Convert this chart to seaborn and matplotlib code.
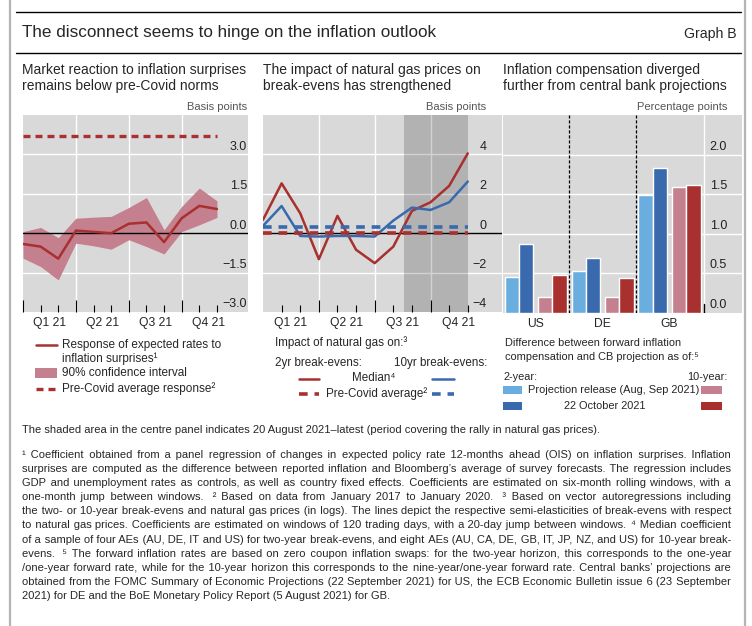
import numpy as np
import pandas as pd
import matplotlib.pyplot as plt
import seaborn as sns
from matplotlib.lines import Line2D
from matplotlib.patches import Rectangle

W, H = 752, 626

# ---- data ----
months = np.arange(12)              # Jan..Dec 2021
quarters = ['Q1 21', 'Q2 21', 'Q3 21', 'Q4 21']
quarter_mid = [1.5, 4.5, 7.5, 10.5]

# panel 1: response of expected rates to inflation surprises (bp)
resp = [-0.41, -0.51, -0.97, 0.10, 0.05, 0.00, 0.36, 0.41, -0.34, 0.57, 1.04, 0.92]
resp_hi = [0.06, 0.22, -0.17, 0.57, 0.61, 0.64, 0.98, 1.36, 0.13, 1.02, 1.72, 1.23]
resp_lo = [-0.95, -1.27, -1.78, -0.38, -0.48, -0.61, -0.25, -0.51, -0.79, 0.06, 0.32, 0.60]
resp_precovid = 3.7

# panel 2: impact of natural gas on break-evens (bp)
be2_median = [0.68, 2.53, 1.01, -1.32, 0.88, -0.84, -1.52, -0.68, 1.13, 1.57, 2.40, 4.05]
be10_median = [0.37, 1.38, -0.14, -0.17, -0.14, -0.14, -0.17, 0.64, 1.30, 1.18, 1.57, 2.62]
be2_precovid = 0.03
be10_precovid = 0.30
shade_start, shade_end = 7.6, 11.0

# panel 3: forward inflation compensation minus CB projection (pp)
countries = ['US', 'DE', 'GB']
proj_2y = [0.45, 0.53, 1.49]
oct_2y = [0.87, 0.69, 1.83]
proj_10y = [0.19, 0.19, 1.59]
oct_10y = [0.48, 0.44, 1.62]

RED = '#a8302e'
BLUE = '#3a6aae'
LBLUE = '#6aaee0'
PINK = '#c4808e'
BG = '#d9d9d9'

sns.set_style('white')
FONT = ['Liberation Sans', 'DejaVu Sans']
plt.rcParams['font.family'] = FONT

fig = plt.figure(figsize=(W / 100, H / 100), dpi=100)


def fx(x):
    return x / W


def fy(y):
    return 1 - y / H


def hline(x0, x1, y, **kw):
    fig.add_artist(Line2D([fx(x0), fx(x1)], [fy(y), fy(y)], transform=fig.transFigure, **kw))


def box(x0, y0, x1, y1, color):
    fig.add_artist(Rectangle((fx(x0), fy(y1)), fx(x1) - fx(x0), fy(y0) - fy(y1),
                             transform=fig.transFigure, color=color, lw=0))


def txt(x, y, s, size=8.6, va='center', **kw):
    return fig.text(fx(x), fy(y), s, va=va, fontsize=size, **kw)


# frame and title
for xv in (9.5, 745):
    fig.add_artist(Line2D([fx(xv), fx(xv)], [0, 1], transform=fig.transFigure, color='#b4b4b4', lw=1.6))
hline(16, 741, 12, color='black', lw=1)
hline(16, 741, 53, color='black', lw=1)
txt(22, 33, 'The disconnect seems to hinge on the inflation outlook', size=12.3)
txt(737, 34, 'Graph B', size=10.2, ha='right')

titles = [(22, 'Market reaction to inflation surprises\nremains below pre-Covid norms'),
          (263, 'The impact of natural gas prices on\nbreak-evens has strengthened'),
          (503, 'Inflation compensation diverged\nfurther from central bank projections')]
for x, t in titles:
    txt(x, 78, t, size=10, linespacing=1.2)

ax1 = fig.add_axes([fx(23), fy(312), 225 / W, 197 / H])
ax2 = fig.add_axes([fx(263), fy(312), 239 / W, 197 / H])
ax3 = fig.add_axes([fx(503), fy(312.5), 239 / W, 197.5 / H])


def base(ax, ylim, ygrid, ylabels, lab_x, unit):
    ax.set_facecolor(BG)
    ax.set_ylim(*ylim)
    for s in ax.spines.values():
        s.set_visible(False)
    ax.set_yticks([])
    ax.set_xlabel('')
    ax.set_ylabel('')
    for v in ygrid:
        ax.axhline(v, color='white', lw=1, zorder=0)
    for v, lab in ylabels:
        ax.annotate(lab, xy=(lab_x, v), xycoords=('axes fraction', 'data'), xytext=(0, 1.2),
                    textcoords='offset points', ha='right', va='bottom', fontsize=9, color='#222222')
    ax.annotate(unit, xy=(lab_x, 1), xycoords='axes fraction', xytext=(0, 2),
                textcoords='offset points', ha='right', va='bottom', fontsize=8, color='#555555')


def month_axis(ax, major):
    ax.set_xticks(major)
    ax.set_xticks([m for m in months if m % 3 != 0], minor=True)
    ax.tick_params(axis='x', which='major', direction='in', length=9, width=0.8,
                   color='black', labelbottom=False, bottom=True)
    ax.tick_params(axis='x', which='minor', direction='in', length=5, width=0.8,
                   color='black', bottom=True)
    for q, pos in zip(quarters, quarter_mid):
        ax.text(pos, -0.025, q, transform=ax.get_xaxis_transform(), ha='center', va='top', fontsize=8.7)


# ---- panel 1 ----
ax1.fill_between(months, resp_lo, resp_hi, color=PINK, lw=0, zorder=1)
sns.lineplot(x=months, y=resp, ax=ax1, color=RED, lw=1.8, zorder=3)
sns.lineplot(x=months, y=np.full(len(months), resp_precovid), ax=ax1, color=RED, lw=2.4,
             zorder=3).lines[-1].set_dashes((2.1, 1.5))
ax1.set_xlim(0, 12.76)
for v in (3, 6, 9):
    ax1.axvline(v, color='white', lw=1, zorder=0)
ax1.axhline(0, color='black', lw=1, zorder=2)
base(ax1, (-3, 4.5), (-1.5, 1.5, 3.0),
     [(3, '3.0'), (1.5, '1.5'), (0, '0.0'), (-1.5, '\u22121.5'), (-3, '\u22123.0')], 0.995, 'Basis points')
month_axis(ax1, [0, 3, 6, 9])

# ---- panel 2 ----
ax2.axvspan(shade_start, shade_end, color='black', alpha=0.175, lw=0, zorder=0.5)
sns.lineplot(x=months, y=be2_median, ax=ax2, color=RED, lw=1.8, zorder=3)
sns.lineplot(x=months, y=be10_median, ax=ax2, color=BLUE, lw=1.8, zorder=3)
for val, col in ((be10_precovid, BLUE), (be2_precovid, RED)):
    sns.lineplot(x=months, y=np.full(len(months), val), ax=ax2, color=col, lw=2.6,
                 zorder=3).lines[-1].set_dashes((2.4, 1.9))
ax2.set_xlim(0, 12.84)
for v in (3, 6, 9):
    ax2.axvline(v, color='white', lw=1, zorder=0)
ax2.axhline(0, color='black', lw=1, zorder=2)
base(ax2, (-4, 6), (-2, 2, 4),
     [(4, '4'), (2, '2'), (0, '0'), (-2, '\u22122'), (-4, '\u22124')], 0.935, 'Basis points')
month_axis(ax2, [3, 6, 9])

# ---- panel 3 ----
series = ['proj_2y', 'oct_2y', 'proj_10y', 'oct_10y']
df3 = pd.DataFrame({
    'country': countries * 4,
    'series': np.repeat(series, len(countries)),
    'value': proj_2y + oct_2y + proj_10y + oct_10y,
})
sns.barplot(data=df3, x='country', y='value', hue='series', hue_order=series,
            palette=[LBLUE, BLUE, PINK, RED], width=0.86, saturation=1, legend=False, ax=ax3, zorder=2)
for i, cont in enumerate(ax3.containers):
    shift = -0.035 if i < 2 else 0.035
    for bar in cont:
        bar.set_x(bar.get_x() + shift)
ax3.set_xlim(-0.49, 3.085)
for v in (0.5, 1.5):
    ax3.axvline(v, color='black', lw=0.9, ls=(0, (2.5, 1.5)), zorder=3)
ax3.axvline(2.51, color='white', lw=1, zorder=0)
ax3.axvline(2.51, ymax=0.045, color='black', lw=1, zorder=3)
base(ax3, (0, 2.5), (0.5, 1.0, 1.5, 2.0),
     [(2, '2.0'), (1.5, '1.5'), (1, '1.0'), (0.5, '0.5'), (0, '0.0')], 0.937, 'Percentage points')
ax3.tick_params(axis='x', length=0, pad=4, labelsize=8.7)

# ---- legends ----
# panel 1
L1 = 8.5
hline(36, 57, 345, color=RED, lw=1.8)
txt(62, 345, 'Response of expected rates to', size=L1)
txt(62, 359, 'inflation surprises\u00b9', size=L1)
box(35, 368, 57, 378, PINK)
txt(62, 373, '90% confidence interval', size=L1)
hline(36, 57, 389, color=RED, lw=2.4, dashes=(2.1, 1.5))
txt(62, 389, 'Pre-Covid average response\u00b2', size=L1)

# panel 2
L2 = 8.4
txt(275, 343, 'Impact of natural gas on:\u00b3', size=L2)
txt(275, 363, '2yr break-evens:', size=L2)
txt(394, 363, '10yr break-evens:', size=L2)
hline(299, 319, 379, color=RED, lw=1.8)
txt(352, 378, 'Median\u2074', size=L2)
hline(432, 454, 379, color=BLUE, lw=1.8)
hline(299, 319, 394, color=RED, lw=2.6, dashes=(2.4, 1.9))
txt(326, 394, 'Pre-Covid average\u00b2', size=L2)
hline(432, 454, 394, color=BLUE, lw=2.6, dashes=(2.4, 1.9))

# panel 3
L3 = 7.9
txt(505, 343, 'Difference between forward inflation', size=L3)
txt(505, 357, 'compensation and CB projection as of:\u2075', size=L3)
txt(503, 377, '2-year:', size=L3)
txt(728, 377, '10-year:', size=L3, ha='right')
box(503, 386, 522, 394, LBLUE)
txt(528, 390, 'Projection release (Aug, Sep 2021)', size=L3)
box(701, 386, 722, 394, PINK)
box(503, 402, 522, 410, BLUE)
txt(605, 406, '22 October 2021', size=L3, ha='center')
box(701, 402, 722, 410, RED)

# ---- notes ----
NOTE_SIZE = 8.0
txt(22, 433, 'The shaded area in the centre panel indicates 20 August 2021\u2013latest '
    '(period covering the rally in natural gas prices).', size=NOTE_SIZE, va='baseline')

notes = [
    '\u00b9 Coefficient obtained from a panel regression of changes in expected policy rate 12-months ahead (OIS) on inflation surprises. Inflation',
    'surprises are computed as the difference between reported inflation and Bloomberg\u2019s average of survey forecasts. The regression includes',
    'GDP and unemployment rates as controls, as well as country fixed effects. Coefficients are estimated on six-month rolling windows, with a',
    'one-month jump between windows. \u00b2 Based on data from January 2017 to January 2020. \u00b3 Based on vector autoregressions including',
    'the two- or 10-year break-evens and natural gas prices (in logs). The lines depict the respective semi-elasticities of break-evens with respect',
    'to natural gas prices. Coefficients are estimated on windows of 120 trading days, with a 20-day jump between windows. \u2074 Median coefficient',
    'of a sample of four AEs (AU, DE, IT and US) for two-year break-evens, and eight AEs (AU, CA, DE, GB, IT, JP, NZ, and US) for 10-year break-',
    'evens. \u2075 The forward inflation rates are based on zero coupon inflation swaps: for the two-year horizon, this corresponds to the one-year',
    '/one-year forward rate, while for the 10-year horizon this corresponds to the nine-year/one-year forward rate. Central banks\u2019 projections are',
    'obtained from the FOMC Summary of Economic Projections (22 September 2021) for US, the ECB Economic Bulletin issue 6 (23 September',
    '2021) for DE and the BoE Monetary Policy Report (5 August 2021) for GB.',
]
SUPS = '\u00b9\u00b2\u00b3\u2074\u2075'
HAIR = '\u200a'
renderer = fig.canvas.get_renderer()


def text_width(s):
    t = fig.text(0, 0, s, fontsize=NOTE_SIZE)
    w = t.get_window_extent(renderer).width
    t.remove()
    return w


hair_w = (text_width('a' + HAIR * 20 + 'a') - text_width('aa')) / 20
x_left, x_right = 22, 731
for k, line in enumerate(notes):
    y = 458 + 14.1 * k
    if k == len(notes) - 1:
        txt(x_left, y, line, size=NOTE_SIZE, va='baseline')
        continue
    # justify: pad the word gaps with hair spaces, wider gap before a footnote marker
    words = line.split()
    weights = [3.0 if words[i + 1][0] in SUPS else 1.0 for i in range(len(words) - 1)]
    n_hair = max(0, round((x_right - x_left - text_width(' '.join(words))) / hair_w))
    cum = np.cumsum(weights) / sum(weights) * n_hair
    counts = np.diff(np.concatenate([[0], np.round(cum)])).astype(int)
    s = words[0]
    for w, c in zip(words[1:], counts):
        s += ' ' + HAIR * c + w
    txt(x_left, y, s, size=NOTE_SIZE, va='baseline')

fig.savefig('out.png', dpi=100)
